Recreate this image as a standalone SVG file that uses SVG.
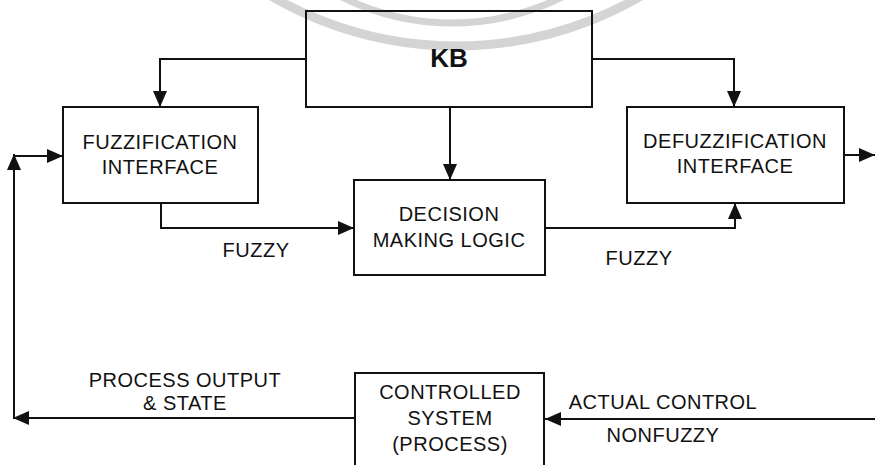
<svg xmlns="http://www.w3.org/2000/svg" width="875" height="465" viewBox="0 0 875 465">
<style>
.box{fill:none;stroke:#111;stroke-width:2}
.ln{fill:none;stroke:#111;stroke-width:2}
.t{font-family:"Liberation Sans",Arial,sans-serif;font-size:20px;fill:#111;text-anchor:middle;letter-spacing:0.5px}
.kb{font-family:"Liberation Sans",Arial,sans-serif;font-size:26px;font-weight:bold;fill:#111;text-anchor:middle}
.wm{fill:none;stroke:#d4d4d4}
</style>
<defs>
<marker id="ah" markerUnits="userSpaceOnUse" markerWidth="16" markerHeight="14" refX="16" refY="7" orient="auto">
<path d="M0,0 L16,7 L0,14 Z" fill="#111"/>
</marker>
</defs>
<rect width="875" height="465" fill="#fff"/>
<g id="watermark">
<circle class="wm" cx="456" cy="-321" r="367" stroke-width="9"/>
<circle class="wm" cx="452" cy="-223" r="246" stroke-width="7"/>
</g>
<g id="connectors">
<path class="ln" d="M306,59 H160 V107" marker-end="url(#ah)"/>
<path class="ln" d="M592,59 H734 V107" marker-end="url(#ah)"/>
<path class="ln" d="M450,107 V180" marker-end="url(#ah)"/>
<path class="ln" d="M161,203 V228 H354" marker-end="url(#ah)"/>
<path class="ln" d="M545,228 H735 V203" marker-end="url(#ah)"/>
<path class="ln" d="M844,155 H875" marker-end="url(#ah)"/>
<path class="ln" d="M875,419 H545" marker-end="url(#ah)"/>
<path class="ln" d="M355,418 H13" marker-end="url(#ah)"/>
<path class="ln" d="M14,418 V154" marker-end="url(#ah)"/>
<path class="ln" d="M14,156 H63" marker-end="url(#ah)"/>
</g>
<g id="kb">
<rect class="box" x="306" y="11" width="286" height="96"/>
<text class="kb" x="449" y="67">KB</text>
</g>
<g id="fuzzification">
<rect class="box" x="63" y="107" width="195" height="96"/>
<text class="t" x="160" y="149">FUZZIFICATION</text>
<text class="t" x="160" y="174">INTERFACE</text>
</g>
<g id="defuzzification">
<rect class="box" x="627" y="107" width="217" height="96"/>
<text class="t" x="735" y="148">DEFUZZIFICATION</text>
<text class="t" x="735" y="173">INTERFACE</text>
</g>
<g id="decision">
<rect class="box" x="354" y="180" width="191" height="95"/>
<text class="t" x="449" y="221">DECISION</text>
<text class="t" x="449" y="247">MAKING LOGIC</text>
</g>
<g id="controlled">
<rect class="box" x="355" y="373" width="189" height="100"/>
<text class="t" x="450" y="399">CONTROLLED</text>
<text class="t" x="450" y="425">SYSTEM</text>
<text class="t" x="450" y="451">(PROCESS)</text>
</g>
<g id="labels">
<text class="t" x="256" y="257">FUZZY</text>
<text class="t" x="639" y="265">FUZZY</text>
<text class="t" x="185" y="387">PROCESS OUTPUT</text>
<text class="t" x="185" y="410">&amp; STATE</text>
<text class="t" x="663" y="409">ACTUAL CONTROL</text>
<text class="t" x="663" y="442">NONFUZZY</text>
</g>
</svg>
